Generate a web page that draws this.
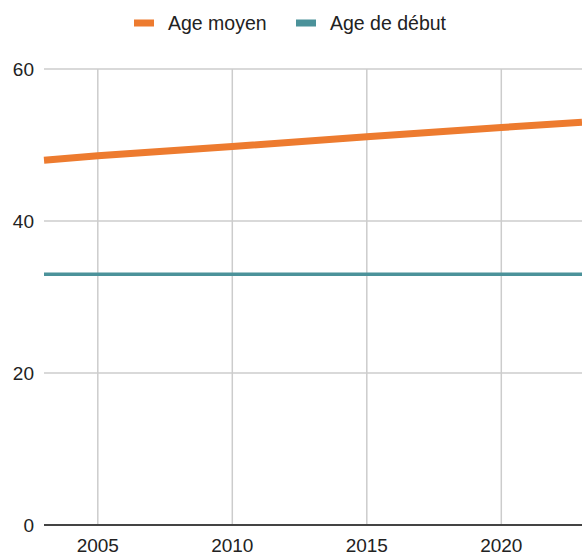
<!DOCTYPE html>
<html>
<head>
<meta charset="utf-8">
<script src="https://cdn.jsdelivr.net/npm/d3@7"></script>
<style>
  body { margin: 0; background: #fff; }
  svg { display: block; font-family: "Liberation Sans", Arial, sans-serif; }
</style>
</head>
<body>
<div class="line_chart"></div>
<script>
// data
const years = [2003, 2005, 2010, 2015, 2020, 2023];
const ageMoyen = [48, 48.6, 49.8, 51.1, 52.3, 53];
const ageDebut = [33, 33, 33, 33, 33, 33];
const seriesNames = ["Age moyen", "Age de début"];
const xTicks = [2005, 2010, 2015, 2020];
const yTicks = [0, 20, 40, 60];

const colors = ["#ed7b2f", "#4b929a"];

const width = 582,
  height = 555;
const margin = { top: 69, right: 0, bottom: 30, left: 44 };

const svg = d3
  .select(".line_chart")
  .append("svg")
  .attr("width", width)
  .attr("height", height);

const x = d3
  .scaleLinear()
  .domain([2003, 2023])
  .range([margin.left, width - margin.right]);

const y = d3
  .scaleLinear()
  .domain([0, 60])
  .range([height - margin.bottom, margin.top]);

// horizontal gridlines
svg
  .selectAll("hgrid")
  .data(yTicks.filter((d) => d > 0))
  .join("line")
  .attr("x1", margin.left)
  .attr("x2", width - margin.right)
  .attr("y1", (d) => y(d))
  .attr("y2", (d) => y(d))
  .attr("stroke", "#cccccc")
  .attr("stroke-width", 1.5);

// vertical gridlines
svg
  .selectAll("vgrid")
  .data(xTicks)
  .join("line")
  .attr("x1", (d) => x(d))
  .attr("x2", (d) => x(d))
  .attr("y1", margin.top)
  .attr("y2", y(0))
  .attr("stroke", "#cccccc")
  .attr("stroke-width", 1.5);

// y labels
svg
  .selectAll("ylabel")
  .data(yTicks)
  .join("text")
  .attr("x", 34)
  .attr("y", (d) => y(d))
  .attr("dy", "0.35em")
  .attr("text-anchor", "end")
  .attr("font-size", "19px")
  .attr("fill", "#222")
  .text((d) => d);

// x labels
svg
  .selectAll("xlabel")
  .data(xTicks)
  .join("text")
  .attr("x", (d) => x(d))
  .attr("y", y(0) + 20)
  .attr("dy", "0.35em")
  .attr("text-anchor", "middle")
  .attr("font-size", "19px")
  .attr("fill", "#222")
  .text((d) => d);

const line = d3
  .line()
  .x((d) => x(d[0]))
  .y((d) => y(d[1]));

// Age de début
svg
  .append("path")
  .datum(d3.zip(years, ageDebut))
  .attr("d", line)
  .attr("fill", "none")
  .attr("stroke", colors[1])
  .attr("stroke-width", 3.5);

// Age moyen
svg
  .append("path")
  .datum(d3.zip(years, ageMoyen))
  .attr("d", line)
  .attr("fill", "none")
  .attr("stroke", colors[0])
  .attr("stroke-width", 7);

// baseline
svg
  .append("line")
  .attr("x1", margin.left)
  .attr("x2", width - margin.right)
  .attr("y1", y(0))
  .attr("y2", y(0))
  .attr("stroke", "#444")
  .attr("stroke-width", 2);

// legend
const legendX = [134, 296];
const legend = svg
  .selectAll("legend")
  .data(seriesNames)
  .join("g")
  .attr("transform", (d, i) => "translate(" + legendX[i] + ",23)");

legend
  .append("rect")
  .attr("x", 0)
  .attr("y", -3.5)
  .attr("width", 20)
  .attr("height", 7)
  .attr("fill", (d, i) => colors[i]);

legend
  .append("text")
  .attr("x", 34)
  .attr("y", 0)
  .attr("dy", "0.35em")
  .attr("font-size", "19.5px")
  .attr("fill", "#222")
  .text((d) => d);
</script>
</body>
</html>
